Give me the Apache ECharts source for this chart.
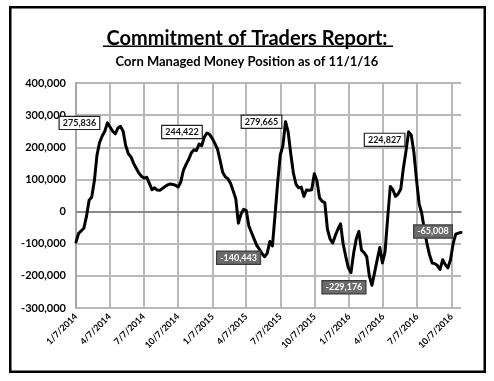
<!DOCTYPE html>
<html><head><meta charset="utf-8">
<script src="https://cdn.jsdelivr.net/npm/echarts@6/dist/echarts.min.js"></script>
<style>html,body{margin:0;padding:0;background:#fff}#c{width:494px;height:381px}</style>
</head><body><div id="c"></div>
<script>
// ---- data ----
const startDate = '2014-01-07';           // first weekly report (Tuesday)
const weekCount = 148;                    // weekly reports through 11/1/2016
const positions = [
  -95000, -68000, -60000, -52000, -15000, 35000, 45000, 95000, 175000, 215000,
  235000, 250000, 275836, 263000, 250000, 242000, 260000, 265000, 250000, 205000,
  180000, 170000, 150000, 135000, 120000, 110000, 104000, 107000, 88000, 68000,
  74000, 67000, 66000, 72000, 78000, 83000, 86000, 84000, 82000, 76000,
  92000, 128000, 146000, 162000, 182000, 192000, 190000, 210000, 205000, 232000,
  244422, 240000, 228000, 212000, 195000, 160000, 122000, 108000, 102000, 88000,
  65000, 40000, -36000, -8000, 7000, 4000, -45000, -65000, -85000, -105000,
  -117000, -130000, -140443, -130000, -93000, -107000, -10000, 90000, 176000, 205000,
  279665, 248000, 180000, 120000, 85000, 74000, 76000, 47000, 67000, 66000,
  68000, 118000, 95000, 42000, 32000, 28000, -55000, -85000, -98000, -75000,
  -55000, -38000, -100000, -140000, -175000, -190000, -130000, -85000, -62000, -120000,
  -128000, -140000, -200000, -229176, -190000, -150000, -112000, -160000, -125000, -20000,
  78000, 68000, 47000, 55000, 70000, 135000, 188000, 248000, 238000, 185000,
  100000, 25000, -5000, -55000, -100000, -135000, -160000, -162000, -168000, -180000,
  -150000, -165000, -175000, -150000, -100000, -70000, -67000, -65008
];
const tickLabels = ['1/7/2014','4/7/2014','7/7/2014','10/7/2014','1/7/2015','4/7/2015',
  '7/7/2015','10/7/2015','1/7/2016','4/7/2016','7/7/2016','10/7/2016'];
const yMin = -300000, yMax = 400000, yStep = 100000;
const noteWeeks = [12, 50, 80, 127, 72, 113, 147];
const noteTexts = ['275,836','244,422','279,665','224,827','-140,443','-229,176','-65,008'];

// ---- build ----
function fmt(d){ return (d.getUTCMonth()+1)+'/'+d.getUTCDate()+'/'+d.getUTCFullYear(); }
const t0 = Date.parse(startDate+'T00:00:00Z');
const nDays = (weekCount-1)*7 + 1;
const days = [];
const lineData = [];
for (let k=0;k<nDays;k++){
  days.push(fmt(new Date(t0 + k*86400000)));
  lineData.push(k%7===0 ? positions[k/7] : null);
}
const tickSet = new Set(tickLabels);
const onTick = (i, v) => tickSet.has(v);

const FONT = 'Lato';
const noteOffsets = [[-28,0],[-25,-1],[-24,0],[-24,8],[-26,1],[-28,2],[-28,-1]];
const noteDark = [false,false,false,false,true,true,true];
const marks = noteWeeks.map((w,j)=>({
  name: noteTexts[j],
  coord: [w*7, positions[w]],
  label: {
    offset: noteOffsets[j],
    color: noteDark[j] ? '#ffffff' : '#111111',
    backgroundColor: noteDark[j] ? '#6b6b6b' : '#ffffff',
    borderColor: noteDark[j] ? '#3a3a3a' : '#222222'
  }
}));

const chart = echarts.init(document.getElementById('c'), null, {renderer:'canvas'});
chart.setOption({
  animation: false,
  backgroundColor: '#ffffff',
  title: [
    {text: 'Commitment of Traders Report:', left: 'center', top: 24,
     textStyle: {fontFamily: FONT, fontWeight: 'bold', fontSize: 20, color: '#000'}},
    {text: 'Corn Managed Money Position as of 11/1/16', left: 'center', top: 50,
     textStyle: {fontFamily: FONT, fontWeight: 'bold', fontSize: 13, color: '#000'}}
  ],
  graphic: [
    {type: 'rect', shape: {x: 10.25, y: 7.25, width: 474.5, height: 364.5},
     style: {fill: null, stroke: '#000', lineWidth: 2.5}, silent: true},
    {type: 'rect', shape: {x: 103, y: 45.5, width: 290, height: 1.6},
     style: {fill: '#000'}, silent: true}
  ],
  grid: {left: 76, right: 33, top: 83, bottom: 73, containLabel: false},
  xAxis: {
    type: 'category', data: days, boundaryGap: false,
    axisLine: {show: true, lineStyle: {color: '#a6a6a6', width: 2}},
    axisTick: {show: false},
    axisLabel: {interval: onTick, rotate: 45, margin: 7, fontFamily: FONT,
      fontWeight: 'bold', fontSize: 9, color: '#000'},
    splitLine: {show: true, interval: onTick, lineStyle: {color: '#b8b8b8', width: 2}}
  },
  yAxis: {
    type: 'value', min: yMin, max: yMax, interval: yStep,
    axisLine: {show: true, lineStyle: {color: '#a6a6a6', width: 2}},
    axisTick: {show: false},
    axisLabel: {margin: 10, fontFamily: FONT, fontWeight: 'bold', fontSize: 11, color: '#000',
      formatter: v => v.toLocaleString('en-US')},
    splitLine: {show: true, lineStyle: {color: '#b8b8b8', width: 2}}
  },
  series: [
    {type: 'line', data: [], silent: true,
     markLine: {silent: true, symbol: 'none', z: 1, label: {show: false},
       lineStyle: {color: '#8a8a8a', width: 2, type: 'solid'}, data: [{yAxis: 0}]}},
    {type: 'line', data: lineData, connectNulls: true, symbol: 'none', z: 3,
     lineStyle: {color: '#000', width: 3, join: 'round', cap: 'round'},
     markPoint: {symbol: 'circle', symbolSize: 1, z: 6,
       itemStyle: {color: 'rgba(0,0,0,0)'},
       label: {show: true, position: 'inside', formatter: '{b}', fontFamily: FONT,
         fontWeight: 'bold', fontSize: 9, borderWidth: 1.2, padding: [2, 3, 1, 3]},
       data: marks}}
  ]
});
</script></body></html>
